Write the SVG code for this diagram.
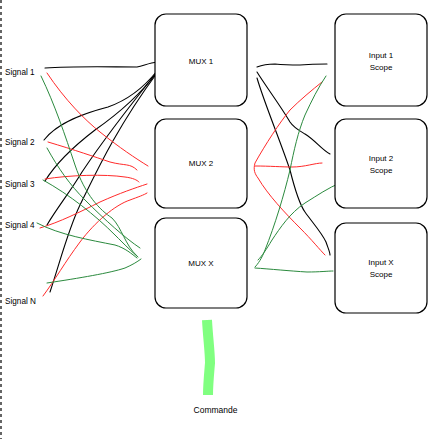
<svg xmlns="http://www.w3.org/2000/svg" width="448" height="439" viewBox="0 0 448 439">
<style>
.box{fill:#fff;stroke:#000;stroke-width:1.2}
.lbl{font-family:"Liberation Sans",Arial,sans-serif;font-size:8px;fill:#000;text-anchor:middle}
.sig{font-family:"Liberation Sans",Arial,sans-serif;font-size:8.2px;fill:#000}
.k{fill:none;stroke:#000;stroke-width:1.1;stroke-linecap:round}
.r{fill:none;stroke:#ff2a2a;stroke-width:1;stroke-linecap:round}
.g{fill:none;stroke:#2b8a3e;stroke-width:1;stroke-linecap:round}
</style>
<rect width="448" height="439" fill="#fff"/>
<line x1="1" y1="0" x2="1" y2="439" stroke="#000" stroke-width="1.2" stroke-dasharray="3,3"/>

<g id="signals">
<text class="sig" x="5" y="75">Signal 1</text>
<text class="sig" x="5" y="145">Signal 2</text>
<text class="sig" x="5" y="187">Signal 3</text>
<text class="sig" x="5" y="228">Signal 4</text>
<text class="sig" x="5" y="304">Signal N</text>
</g>

<g id="connectors">
<!-- left black -->
<path class="k" d="M45,68 C75,66 110,67 137,67 C145,65 150,63 157,62"/>
<path class="k" d="M44,140 C58,122 85,113 108,107 C128,100 145,86 157,71"/>
<path class="k" d="M45,181 C58,160 78,143 95,130 C115,116 140,95 157,72"/>
<path class="k" d="M47,225 C57,208 70,192 82,172 C100,145 120,118 157,72"/>
<path class="k" d="M50,292 C60,262 68,230 80,205 C95,175 115,130 157,73"/>
<!-- left red -->
<path class="r" d="M47,73 C65,100 85,120 100,132 C120,148 135,158 148,166"/>
<path class="r" d="M48,142 C75,150 95,157 110,162 C125,166 130,163 137,170"/>
<path class="r" d="M45,179 C70,175 105,174 125,177 C133,178 137,180 139,182"/>
<path class="r" d="M40,228 C60,222 80,212 100,202 C120,193 135,188 147,184"/>
<path class="r" d="M43,296 C55,280 65,262 80,242 C95,222 115,205 130,200 C138,197 144,195 147,193"/>
<!-- left green -->
<path class="g" d="M41,76 C55,105 65,135 75,165 C85,195 100,210 112,218 C122,228 125,245 137,256"/>
<path class="g" d="M47,148 C58,168 70,185 85,200 C105,220 125,238 140,248"/>
<path class="g" d="M43,180 C70,195 95,215 115,235 C125,245 132,252 138,257"/>
<path class="g" d="M37,223 C60,235 90,240 115,245 C125,248 132,254 137,258"/>
<path class="g" d="M47,283 C80,278 110,273 125,268 C132,265 137,262 141,259"/>
<!-- right black -->
<path class="k" d="M257,67 C262,65 268,64 275,64 C285,65 292,65 300,65 C312,64 320,64 327,64"/>
<path class="k" d="M257,72 C265,85 280,105 290,122 C294,128 300,131 305,134 C315,140 322,150 330,154"/>
<path class="k" d="M257,78 C265,105 280,140 290,170 C295,190 300,205 305,212 C312,222 322,233 326,242 C328,248 330,252 330,255"/>
<!-- right red -->
<path class="r" d="M322,82 C312,90 300,100 290,110 C280,122 265,145 255,163 C253,170 255,174 258,178 C268,195 285,213 300,228 C312,240 320,250 325,255"/>
<path class="r" d="M255,166 C270,166 282,167 292,167 C305,167 315,163 322,163"/>
<!-- right green -->
<path class="g" d="M326,76 C318,88 312,100 305,115 C298,132 294,150 290,170 C284,195 275,225 265,250 C262,258 258,264 255,267"/>
<path class="g" d="M340,183 C328,188 318,195 305,203 C290,213 280,228 272,240 C266,250 262,256 258,260"/>
<path class="g" d="M255,268 C270,269 290,271 307,272 C320,272 328,271 333,271"/>
</g>

<g id="mux1"><rect class="box" x="155" y="14" width="92" height="92" rx="11"/><text class="lbl" x="201" y="64">MUX 1</text></g>
<g id="mux2"><rect class="box" x="155" y="119" width="92" height="89" rx="11"/><text class="lbl" x="201" y="166">MUX 2</text></g>
<g id="muxx"><rect class="box" x="155" y="218" width="92" height="90" rx="11"/><text class="lbl" x="201" y="266">MUX X</text></g>

<g id="scope1"><rect class="box" x="335" y="14" width="92" height="92" rx="11"/><text class="lbl" x="381" y="58">Input 1</text><text class="lbl" x="381" y="70">Scope</text></g>
<g id="scope2"><rect class="box" x="335" y="119" width="92" height="89" rx="11"/><text class="lbl" x="381" y="161">Input 2</text><text class="lbl" x="381" y="173">Scope</text></g>
<g id="scopex"><rect class="box" x="335" y="223" width="92" height="90" rx="11"/><text class="lbl" x="381" y="265">Input X</text><text class="lbl" x="381" y="277">Scope</text></g>

<g id="commande">
<path d="M207,320 C208,338 210,352 210,363 C209,375 208,385 208,395" fill="none" stroke="#80ff80" stroke-width="10"/>
<text class="lbl" x="215.5" y="413" style="font-size:8.5px">Commande</text>
</g>
</svg>
